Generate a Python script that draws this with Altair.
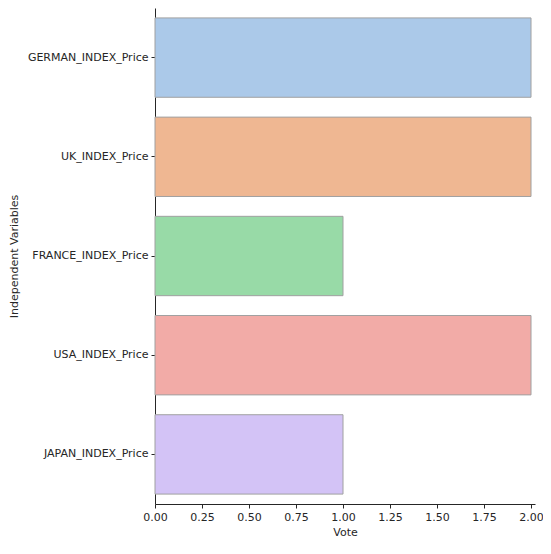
import altair as alt
import pandas as pd

categories = ["GERMAN_INDEX_Price", "UK_INDEX_Price", "FRANCE_INDEX_Price", "USA_INDEX_Price", "JAPAN_INDEX_Price"]
votes = [2, 2, 1, 2, 1]
colors = ["#abc9e9", "#efb792", "#98daa7", "#f2aba7", "#d3c3f6"]

df = pd.DataFrame({"var": categories, "Vote": votes})

FS = 11

chart = alt.Chart(df).mark_bar(stroke="#a0a0a0", strokeWidth=1).encode(
    y=alt.Y("var:N", sort=categories, title="Independent Variables",
            scale=alt.Scale(paddingInner=0.2, paddingOuter=0.1),
            axis=alt.Axis(labelFont="DejaVu Sans", labelFontSize=FS, labelColor="#262626",
                          titleFont="DejaVu Sans", titleFontSize=FS, titleFontWeight="normal",
                          titleColor="#262626", tickColor="#262626", tickSize=4,
                          domainColor="#262626", labelPadding=3, titlePadding=8)),
    x=alt.X("Vote:Q", scale=alt.Scale(domain=[0, 380 / 188], nice=False),
            axis=alt.Axis(values=[0, 0.25, 0.5, 0.75, 1, 1.25, 1.5, 1.75, 2], format=".2f",
                          grid=False, labelFont="DejaVu Sans", labelFontSize=FS, labelColor="#262626",
                          titleFont="DejaVu Sans", titleFontSize=FS, titleFontWeight="normal",
                          titleColor="#262626", tickColor="#262626", tickSize=4,
                          domainColor="#262626", labelPadding=3, titlePadding=4,
                          labelFlush=False)),
    color=alt.Color("var:N", sort=categories, scale=alt.Scale(domain=categories, range=colors), legend=None),
).properties(
    width=380, height=496,
    autosize=alt.AutoSizeParams(type="none"),
    padding={"left": 147, "top": 0, "right": 8, "bottom": 40},
).configure_view(stroke=None).configure_axisY(grid=False)

chart.save("out.html", embed_options={"renderer": "svg", "actions": False})
